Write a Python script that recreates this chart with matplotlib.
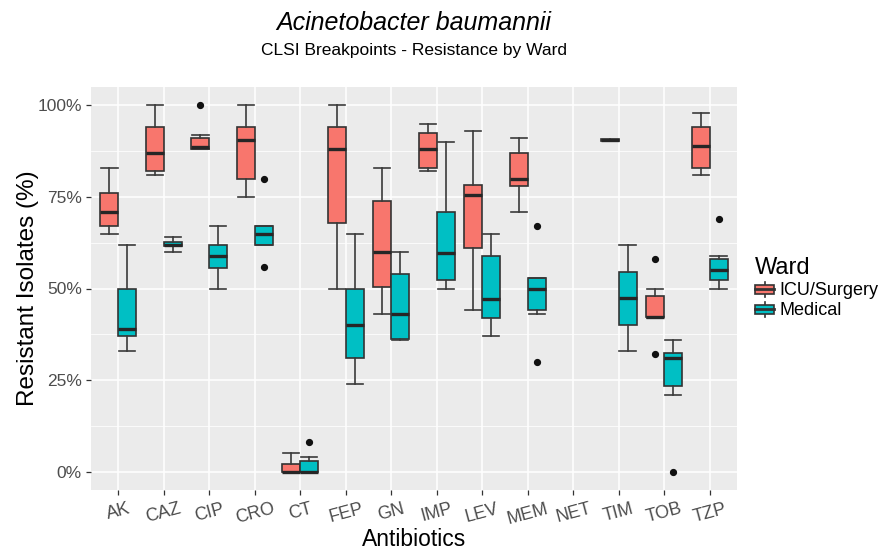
import numpy as np
import matplotlib
matplotlib.use("Agg")
import matplotlib.pyplot as plt
from matplotlib.patches import Rectangle, Patch
from matplotlib.lines import Line2D
from matplotlib.legend_handler import HandlerBase
from matplotlib.ticker import FixedLocator, FuncFormatter

plt.rcParams['font.family'] = ['Liberation Sans', 'DejaVu Sans']

# ---- data -------------------------------------------------------------
antibiotics = ['AK', 'CAZ', 'CIP', 'CRO', 'CT', 'FEP', 'GN', 'IMP',
               'LEV', 'MEM', 'NET', 'TIM', 'TOB', 'TZP']
wards = ['ICU/Surgery', 'Medical']
ward_colors = ['#F8766D', '#00BFC4']

nan = np.nan

# ICU/Surgery five-number summaries (% resistant isolates)
icu_low  = [65, 81, 88,   75, 0,   50, 43,   82,   44,   71, nan, 90.5, 42,   81]
icu_q1   = [67, 82, 88,   80, 0,   68, 50.4, 83,   61,   78, nan, 90.3, 42.2, 83]
icu_med  = [71, 87, 88.6, 90.4, 0, 88, 60,   88,   75.4, 80, nan, 90.5, 42.2, 89]
icu_q3   = [76, 94, 91,   94, 2.2, 94, 74,   92.5, 78.3, 87, nan, 90.7, 48,   94]
icu_high = [83, 100, 92,  100, 5, 100, 83,   95,   93,   91, nan, 90.5, 50,   98]
icu_out  = [[], [], [100], [], [], [], [], [], [], [], [], [], [58, 32], []]

# Medical five-number summaries (% resistant isolates)
med_low  = [33, 60,   50,   62, 0, 24, 36,   50,   37, 43, nan, 33,   21,   50]
med_q1   = [37, 61.5, 55.7, 62, 0, 31, 36.2, 52.4, 42, 44, nan, 40,   23.4, 52.3]
med_med  = [39, 62,   59,   65, 0, 40, 43,   59.6, 47, 50, nan, 47.4, 31,   55]
med_q3   = [50, 62.6, 62,   67, 3, 50, 54,   71,   59, 53, nan, 54.6, 32.3, 58]
med_high = [62, 64,   67,   67, 4, 65, 60,   90,   65, 53, nan, 62,   36,   59]
med_out  = [[], [], [], [80, 56], [8], [], [], [], [], [67, 30], [], [], [0], [69]]

y_ticks = [0, 25, 50, 75, 100]
y_minor = [12.5, 37.5, 62.5, 87.5]

# ---- helpers ----------------------------------------------------------
def build_stats(lo, q1, med, q3, hi, out):
    stats, pos = [], []
    for i in range(len(antibiotics)):
        if np.isnan(med[i]):
            continue
        stats.append(dict(whislo=lo[i], q1=q1[i], med=med[i], q3=q3[i],
                          whishi=hi[i], fliers=out[i]))
        pos.append(i)
    return stats, np.array(pos, dtype=float)


class BoxKeyHandler(HandlerBase):
    """Small boxplot glyph used as legend key."""
    def create_artists(self, legend, orig_handle, xdescent, ydescent,
                       width, height, fontsize, trans):
        fc = orig_handle.get_facecolor()
        x0, y0 = -xdescent, -ydescent
        bx0, bw = x0 + 0.02 * width, 0.96 * width
        by0, bh = y0 + 0.2 * height, 0.6 * height
        xc = x0 + width / 2
        arts = [
            Line2D([xc, xc], [y0 + 0.0 * height, by0], color='#333333', lw=1.2, transform=trans),
            Line2D([xc, xc], [by0 + bh, y0 + 1.0 * height], color='#333333', lw=1.2, transform=trans),
            Rectangle((bx0, by0), bw, bh, facecolor=fc, edgecolor='#333333', lw=1.2, transform=trans),
            Line2D([bx0, bx0 + bw], [by0 + bh / 2] * 2, color='#333333', lw=2.0, transform=trans),
        ]
        return arts


# ---- figure -----------------------------------------------------------
fig = plt.figure(figsize=(8.82, 5.49), dpi=100)
ax = fig.add_axes([91 / 882, 59 / 549, 646 / 882, 403 / 549])
ax.set_facecolor('#EBEBEB')
for s in ax.spines.values():
    s.set_visible(False)

ax.set_xlim(-0.6, len(antibiotics) - 0.4)
ax.set_ylim(-5, 105)

# grid
ax.set_axisbelow(True)
ax.yaxis.set_major_locator(FixedLocator(y_ticks))
ax.yaxis.set_minor_locator(FixedLocator(y_minor))
ax.yaxis.set_major_formatter(FuncFormatter(lambda v, p: f"{v:.0f}%"))
ax.grid(which='major', axis='both', color='white', lw=1.1)
ax.grid(which='minor', axis='y', color='white', lw=0.55)
ax.tick_params(axis='y', which='minor', length=0)

offsets = [-0.197, 0.197]
series = [
    (icu_low, icu_q1, icu_med, icu_q3, icu_high, icu_out),
    (med_low, med_q1, med_med, med_q3, med_high, med_out),
]
for (lo, q1, md, q3, hi, out), off, col in zip(series, offsets, ward_colors):
    stats, pos = build_stats(lo, q1, md, q3, hi, out)
    ax.bxp(stats, positions=pos + off, widths=0.394, capwidths=0.36,
           patch_artist=True, manage_ticks=False,
           boxprops=dict(facecolor=col, edgecolor='#333333', lw=1.2),
           medianprops=dict(color='#262626', lw=2.4),
           whiskerprops=dict(color='#3a3a3a', lw=1.2),
           capprops=dict(color='#3a3a3a', lw=1.2),
           flierprops=dict(marker='o', markerfacecolor='#111111',
                           markeredgecolor='#111111', markersize=4.2))

ax.set_xticks(range(len(antibiotics)))
ax.set_xticklabels(antibiotics, rotation=15, ha='center')
ax.tick_params(axis='both', which='major', length=3.5, width=0.9,
               color='#333333', labelcolor='#4D4D4D', labelsize=13)
ax.tick_params(axis='x', pad=4)
ax.tick_params(axis='y', labelsize=12.5, pad=3)

ax.set_xlabel('Antibiotics', fontsize=16.5, color='black', labelpad=0)
ax.set_ylabel('Resistant Isolates (%)', fontsize=17.5, color='black', labelpad=-1)

fig.text(414 / 882, 1 - 23 / 549, 'Acinetobacter baumannii', ha='center', va='center',
         fontsize=18, style='italic')
fig.text(414 / 882, 1 - 50 / 549, 'CLSI Breakpoints - Resistance by Ward', ha='center',
         va='center', fontsize=12.5)

handles = [Patch(facecolor=c, label=w) for c, w in zip(ward_colors, wards)]
fig.legend(handles=handles, handler_map={Patch: BoxKeyHandler()},
           loc='upper left', bbox_to_anchor=(755 / 882, 1 - 257 / 549),
           frameon=False, title='Ward', title_fontsize=17, fontsize=13,
           alignment='left', handlelength=1.1, handleheight=0.9,
           handletextpad=0.25, labelspacing=0.14, borderpad=0, borderaxespad=0)

fig.savefig('out.png', dpi=100)
